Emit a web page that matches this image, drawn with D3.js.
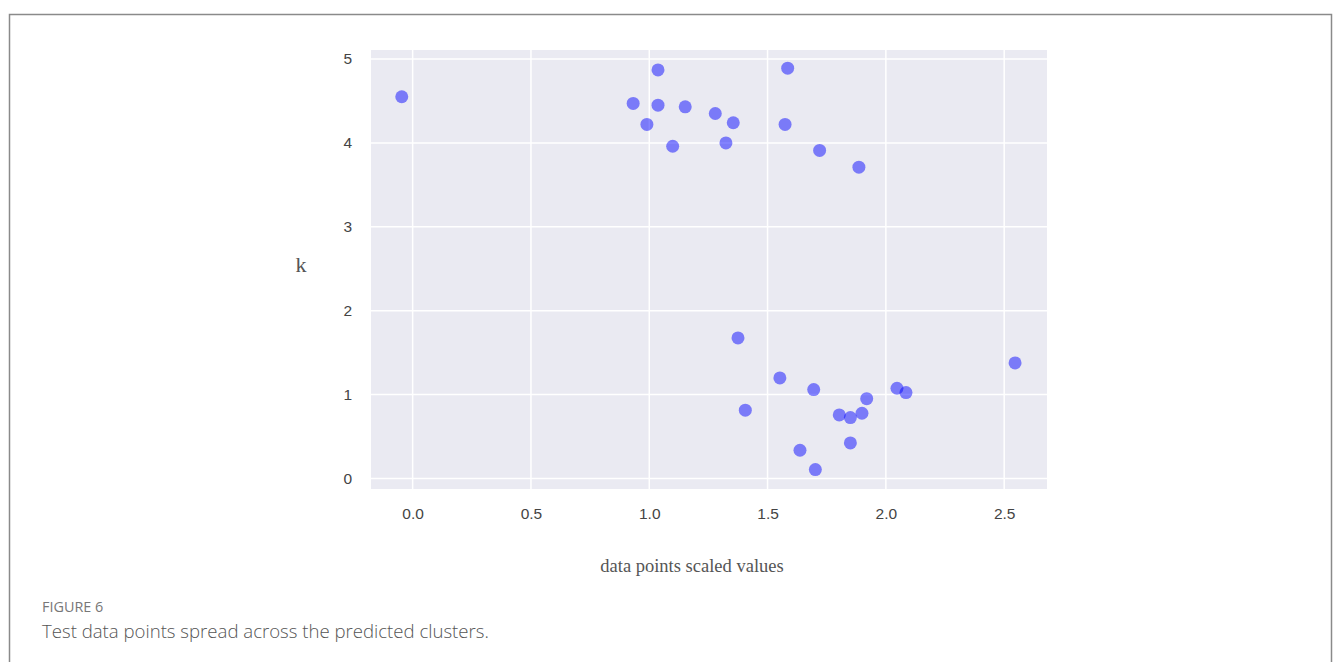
<!DOCTYPE html>
<html>
<head>
<meta charset="utf-8">
<script src="https://cdn.jsdelivr.net/npm/d3@7"></script>
<style>
    body { margin: 0; background: #fff; }
    svg { display: block; }
</style>
</head>
<body>
<svg id="chart" width="1335" height="662"></svg>
<script>
// данные
const xValues = [
    -0.046, 0.932, 1.037, 1.037, 1.152, 0.990, 1.099, 1.279, 1.324, 1.355,
    1.585, 1.574, 1.720, 1.886,
    1.375, 1.406, 1.552, 1.695, 1.637, 1.702, 1.803, 1.850, 1.899, 1.919,
    1.850, 2.047, 2.085, 2.546
]
const kValues = [
    4.55, 4.47, 4.87, 4.45, 4.43, 4.22, 3.96, 4.35, 4.00, 4.24,
    4.89, 4.22, 3.91, 3.71,
    1.676, 0.814, 1.199, 1.060, 0.337, 0.106, 0.758, 0.726, 0.778, 0.952,
    0.424, 1.076, 1.024, 1.378
]
const xTicks = [0, 0.5, 1.0, 1.5, 2.0, 2.5]
const yTicks = [0, 1, 2, 3, 4, 5]

const points = xValues.map((x, i) => ({ x, k: kValues[i] }))

const svg = d3.select('#chart')

// рамка вокруг рисунка
svg.append('rect')
    .attr('x', 9.5)
    .attr('y', 14.5)
    .attr('width', 1322)
    .attr('height', 700)
    .attr('fill', 'none')
    .attr('stroke', '#8a8a8a')
    .attr('stroke-width', 1.5)

const plot = { left: 371, top: 50, right: 1047, bottom: 489 }

const x = d3.scaleLinear()
    .domain([-0.176, 2.681])
    .range([plot.left, plot.right])

const y = d3.scaleLinear()
    .domain([-0.125, 5.107])
    .range([plot.bottom, plot.top])

// фон области графика
svg.append('rect')
    .attr('x', plot.left)
    .attr('y', plot.top)
    .attr('width', plot.right - plot.left)
    .attr('height', plot.bottom - plot.top)
    .attr('fill', '#eaeaf2')

// сетка
const grid = svg.append('g').attr('stroke', '#fff').attr('stroke-width', 1.5)
grid.selectAll('line.gx')
    .data(xTicks)
    .join('line')
    .attr('class', 'gx')
    .attr('x1', d => x(d)).attr('x2', d => x(d))
    .attr('y1', plot.top).attr('y2', plot.bottom)
grid.selectAll('line.gy')
    .data(yTicks)
    .join('line')
    .attr('class', 'gy')
    .attr('y1', d => y(d)).attr('y2', d => y(d))
    .attr('x1', plot.left).attr('x2', plot.right)

// оси без линий, только подписи
const xAxis = svg.append('g')
    .attr('transform', `translate(0,${plot.bottom})`)
    .call(d3.axisBottom(x).tickValues(xTicks).tickFormat(d3.format('.1f')).tickSize(0).tickPadding(19))
const yAxis = svg.append('g')
    .attr('transform', `translate(${plot.left},0)`)
    .call(d3.axisLeft(y).tickValues(yTicks).tickFormat(d3.format('d')).tickSize(0).tickPadding(19))

;[xAxis, yAxis].forEach(a => {
    a.select('.domain').remove()
    a.selectAll('text')
        .attr('font-family', 'Liberation Sans, Arial, sans-serif')
        .attr('font-size', 15.5)
        .attr('fill', '#444')
})

// точки
svg.append('g')
    .selectAll('circle')
    .data(points)
    .join('circle')
    .attr('cx', d => x(d.x))
    .attr('cy', d => y(d.k))
    .attr('r', 6.5)
    .attr('fill', 'blue')
    .attr('fill-opacity', 0.48)

// подписи осей
svg.append('text')
    .attr('x', 301)
    .attr('y', 272)
    .attr('text-anchor', 'middle')
    .attr('font-family', 'Liberation Serif, Times New Roman, serif')
    .attr('font-size', 22)
    .attr('fill', '#555')
    .text('k')

svg.append('text')
    .attr('x', 692)
    .attr('y', 572)
    .attr('text-anchor', 'middle')
    .attr('font-family', 'Liberation Serif, Times New Roman, serif')
    .attr('font-size', 18.5)
    .attr('fill', '#555')
    .text('data points scaled values')

// подпись рисунка
svg.append('text')
    .attr('x', 42)
    .attr('y', 612)
    .attr('font-family', 'Open Sans, sans-serif')
    .attr('font-size', 14.4)
    .attr('fill', '#777')
    .text('FIGURE 6')

svg.append('text')
    .attr('x', 42)
    .attr('y', 638)
    .attr('font-family', 'Open Sans, sans-serif')
    .attr('font-size', 18.6)
    .attr('font-weight', 300)
    .attr('fill', '#555')
    .text('Test data points spread across the predicted clusters.')
</script>
</body>
</html>
